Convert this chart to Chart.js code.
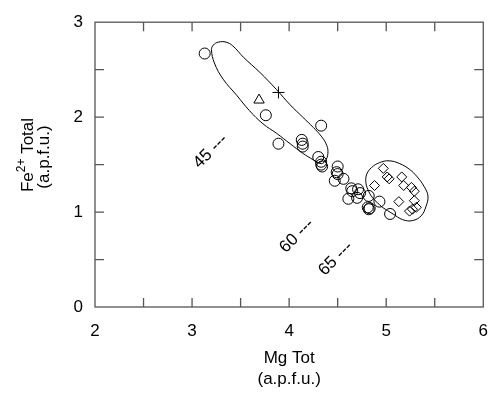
<!DOCTYPE html>
<html>
<head>
<meta charset="utf-8">
<script src="https://cdn.jsdelivr.net/npm/chart.js@4/dist/chart.umd.min.js"></script>
<style>
    html, body { margin: 0; padding: 0; background: #fff; }
    #wrap { width: 502px; height: 394px; }
</style>
</head>
<body>
<div id="wrap"><canvas id="myChart" width="502" height="394"></canvas></div>
<script>
// Mg Tot (x) vs Fe2+ Total (y), a.p.f.u.
let circleX = [3.13, 3.76, 3.89, 4.33, 4.13, 4.14, 4.14, 4.30, 4.33, 4.33, 4.34, 4.50, 4.49, 4.50, 4.47, 4.56,
    4.64, 4.71, 4.65, 4.61, 4.70, 4.73, 4.82, 4.81, 4.82, 4.83, 4.93, 5.04];
let circleY = [2.67, 2.02, 1.72, 1.91, 1.76, 1.72, 1.69, 1.58, 1.53, 1.50, 1.48, 1.48, 1.42, 1.40, 1.33, 1.35,
    1.25, 1.24, 1.22, 1.14, 1.15, 1.20, 1.17, 1.05, 1.03, 1.04, 1.11, 0.98];

let diamondX = [4.97, 5.01, 5.03, 4.88, 5.16, 5.18, 5.26, 5.29, 5.13, 5.29, 5.31, 5.24, 5.27];
let diamondY = [1.46, 1.37, 1.35, 1.28, 1.37, 1.28, 1.26, 1.22, 1.11, 1.12, 1.05, 1.01, 1.03];

let triangleX = [3.69];
let triangleY = [2.18];
let plusX = [3.89];
let plusY = [2.26];

// hand drawn envelopes
let upperFieldX = [3.46, 3.59, 3.73, 3.87, 4.01, 4.14, 4.25, 4.33, 4.38, 4.40, 4.38, 4.33, 4.25, 4.14, 4.01,
    3.87, 3.70, 3.53, 3.42, 3.35, 3.27, 3.22, 3.20, 3.23, 3.32, 3.46];
let upperFieldY = [2.23, 2.07, 1.93, 1.83, 1.72, 1.62, 1.55, 1.51, 1.55, 1.64, 1.72, 1.80, 1.89, 2.00, 2.13,
    2.29, 2.47, 2.63, 2.75, 2.79, 2.79, 2.76, 2.71, 2.57, 2.40, 2.23];
let lowerFieldX = [4.96, 4.86, 4.81, 4.79, 4.80, 4.85, 4.93, 5.03, 5.14, 5.24, 5.32, 5.39, 5.43, 5.41, 5.36,
    5.27, 5.17, 5.07, 4.96];
let lowerFieldY = [1.05, 1.15, 1.24, 1.32, 1.40, 1.47, 1.52, 1.54, 1.51, 1.45, 1.37, 1.27, 1.17, 1.06, 0.96,
    0.91, 0.92, 0.98, 1.05];

// contour labels
let contourText = ['45', '60', '65'];
let contourX = [3.19, 4.08, 4.48];
let contourY = [1.64, 0.75, 0.51];

let xTicks = [2, 3, 4, 5, 6];
let yTicks = [0, 1, 2, 3];

let fontName = '"Liberation Sans", Arial, Helvetica, sans-serif';
let frameColor = '#555';

function pairs(xs, ys) {
    return xs.map((x, i) => ({ x: x, y: ys[i] }));
}

function markerSet(xs, ys, style, radius) {
    return {
        data: pairs(xs, ys),
        showLine: false,
        pointStyle: style,
        pointRadius: radius,
        pointBorderColor: '#000',
        pointBackgroundColor: 'rgba(0,0,0,0)',
        pointBorderWidth: 1
    };
}

function fieldSet(xs, ys) {
    return {
        data: pairs(xs, ys),
        showLine: true,
        tension: 0.4,
        borderColor: '#000',
        borderWidth: 1,
        pointRadius: 0,
        fill: false
    };
}

// frame, inward ticks, axis titles and contour labels
let decorations = {
    id: 'decorations',
    afterDraw(chart) {
        let ctx = chart.ctx;
        let xs = chart.scales.x;
        let ys = chart.scales.y;
        let a = chart.chartArea;
        ctx.save();
        ctx.strokeStyle = frameColor;
        ctx.lineWidth = 1.3;
        ctx.strokeRect(a.left, a.top, a.right - a.left, a.bottom - a.top);
        ctx.beginPath();
        for (let v = 2.5; v < 6; v += 0.5) {
            let px = xs.getPixelForValue(v);
            ctx.moveTo(px, a.bottom); ctx.lineTo(px, a.bottom - 9);
            ctx.moveTo(px, a.top); ctx.lineTo(px, a.top + 9);
        }
        for (let v = 0.5; v < 3; v += 0.5) {
            let py = ys.getPixelForValue(v);
            ctx.moveTo(a.left, py); ctx.lineTo(a.left + 9, py);
            ctx.moveTo(a.right, py); ctx.lineTo(a.right - 9, py);
        }
        ctx.stroke();

        ctx.fillStyle = '#000';
        ctx.textAlign = 'center';
        ctx.textBaseline = 'middle';
        let midX = (a.left + a.right) / 2;
        ctx.font = '17px ' + fontName;
        ctx.fillText('Mg Tot', midX, 358);
        ctx.fillText('(a.p.f.u.)', midX, 379);

        // y title with superscript
        ctx.save();
        ctx.translate(28, 155);
        ctx.rotate(-Math.PI / 2);
        let big = '17px ' + fontName;
        let small = '12px ' + fontName;
        ctx.font = big;
        let w1 = ctx.measureText('Fe').width;
        let w3 = ctx.measureText(' Total').width;
        ctx.font = small;
        let w2 = ctx.measureText('2+').width;
        let x0 = -(w1 + w2 + w3) / 2;
        ctx.textAlign = 'left';
        ctx.font = big;
        ctx.fillText('Fe', x0, 0);
        ctx.font = small;
        ctx.fillText('2+', x0 + w1, -6);
        ctx.font = big;
        ctx.fillText(' Total', x0 + w1 + w2, 0);
        ctx.restore();

        ctx.save();
        ctx.translate(44, 157);
        ctx.rotate(-Math.PI / 2);
        ctx.font = big;
        ctx.fillText('(a.p.f.u.)', 0, 0);
        ctx.restore();

        ctx.font = '17px ' + fontName;
        contourText.forEach((t, i) => {
            ctx.save();
            ctx.translate(xs.getPixelForValue(contourX[i]), ys.getPixelForValue(contourY[i]));
            ctx.rotate(-Math.PI / 4);
            ctx.fillText(t + ' ---', 0, 0);
            ctx.restore();
        });
        ctx.restore();
    }
};

let chart = new Chart(document.getElementById('myChart'), {
    type: 'scatter',
    data: {
        datasets: [
            fieldSet(upperFieldX, upperFieldY),
            fieldSet(lowerFieldX, lowerFieldY),
            markerSet(circleX, circleY, 'circle', 5.5),
            markerSet(diamondX, diamondY, 'rectRot', 5),
            markerSet(triangleX, triangleY, 'triangle', 6),
            markerSet(plusX, plusY, 'cross', 6)
        ]
    },
    options: {
        responsive: false,
        animation: false,
        events: [],
        layout: { padding: { top: 19, right: 18, left: 0, bottom: 0 } },
        plugins: { legend: { display: false }, tooltip: { enabled: false } },
        scales: {
            x: {
                type: 'linear',
                min: 2,
                max: 6,
                afterFit: (s) => { s.height = 87; },
                afterBuildTicks: (s) => { s.ticks = xTicks.map(v => ({ value: v })); },
                grid: { display: false, drawTicks: false },
                border: { display: false },
                ticks: { color: '#000', padding: 14, font: { family: fontName, size: 17 } }
            },
            y: {
                type: 'linear',
                min: 0,
                max: 3,
                afterFit: (s) => { s.width = 95; },
                afterBuildTicks: (s) => { s.ticks = yTicks.map(v => ({ value: v })); },
                grid: { display: false, drawTicks: false },
                border: { display: false },
                ticks: { color: '#000', padding: 12, font: { family: fontName, size: 17 } }
            }
        }
    },
    plugins: [decorations]
});
</script>
</body>
</html>
